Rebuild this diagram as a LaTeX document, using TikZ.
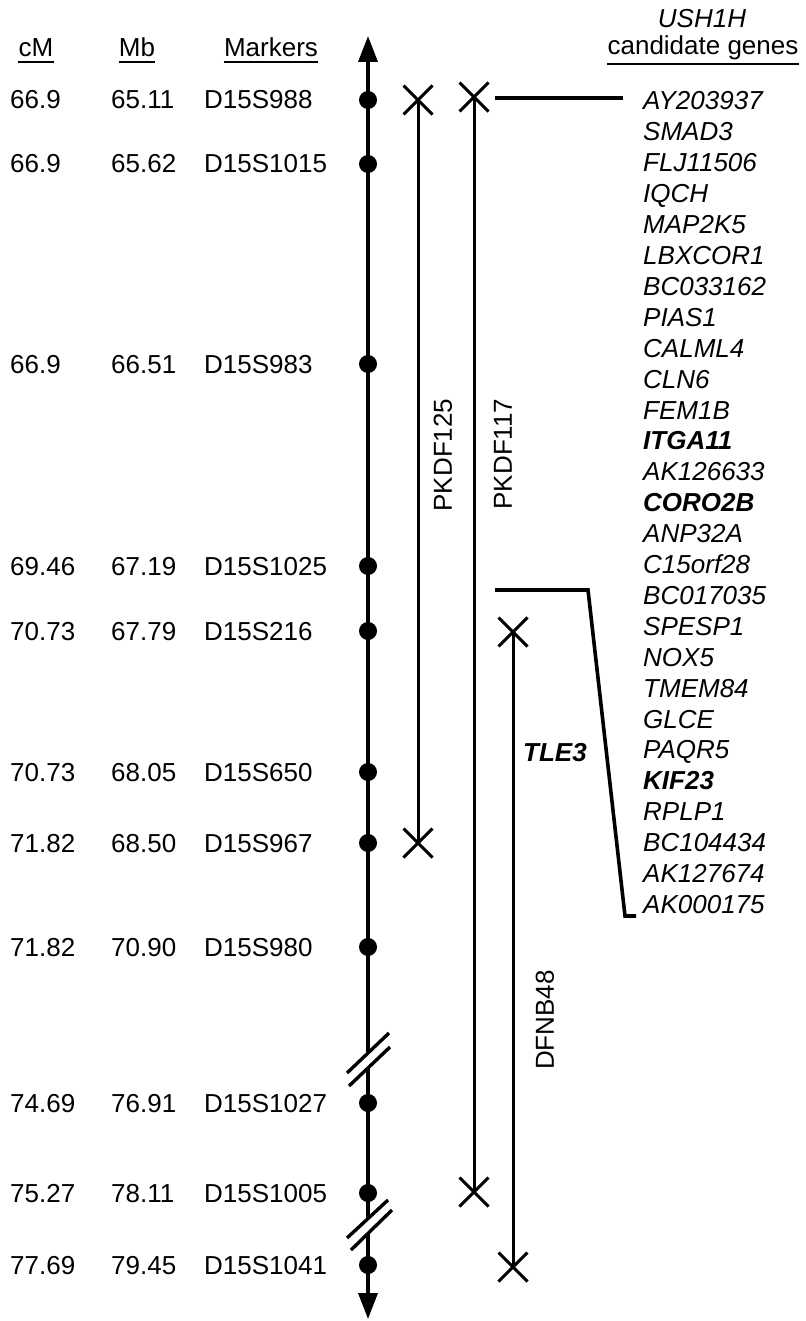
\documentclass[tikz,border=0pt]{standalone}
\usepackage{fontspec}
\setmainfont{Liberation Sans}
\usetikzlibrary{shapes.misc,arrows.meta}
\begin{document}
\begin{tikzpicture}[x=1pt,y=-1pt,
  txt/.style={font=\fontsize{26}{30}\selectfont, inner sep=0pt, anchor=base west},
  gene/.style={txt, font=\fontsize{26}{30}\selectfont\itshape},
  bgene/.style={txt, font=\fontsize{26}{30}\selectfont\bfseries\itshape},
  hdr/.style={font=\fontsize{26}{30}\selectfont, inner sep=0pt, anchor=base},
  lbl/.style={font=\fontsize{26}{30}\selectfont, inner sep=0pt},
  ul/.style={line width=2pt},
  dot/.style={circle, fill, inner sep=0pt, minimum size=18pt},
  xm/.style={cross out, draw, line width=3pt, inner sep=0pt, minimum size=26pt},
  axis/.style={line width=3.6pt},
  ln/.style={line width=3pt},
  brk/.style={line width=3.4pt},
  tip/.style={-{Triangle[width=19pt,length=26pt]}}
]
\useasboundingbox (0,0) rectangle (805,1321);

% headers
\node[hdr] (hcm) at (36,57) {cM};
\node[hdr] (hmb) at (137,57) {Mb};
\node[hdr] (hmk) at (271,57) {Markers};
\node[hdr, font=\fontsize{26}{30}\selectfont\itshape] (husha) at (702,28) {USH1H};
\node[hdr] (hcg) at (703,55) {candidate genes};
\foreach \h in {hcm,hmb,hmk}
  \draw[ul] ([yshift=-5pt]\h.base west) -- ([yshift=-5pt]\h.base east);
\draw[ul] ([yshift=-9pt]hcg.base west) -- ([yshift=-9pt]hcg.base east);

% marker rows
\foreach \i/\y/\c/\m/\n in {
  1/100/66.9/65.11/D15S988,
  2/164/66.9/65.62/D15S1015,
  3/364/66.9/66.51/D15S983,
  4/566/69.46/67.19/D15S1025,
  5/631/70.73/67.79/D15S216,
  6/772/70.73/68.05/D15S650,
  7/843/71.82/68.50/D15S967,
  8/947/71.82/70.90/D15S980,
  9/1103/74.69/76.91/D15S1027,
  10/1193/75.27/78.11/D15S1005,
  11/1265/77.69/79.45/D15S1041}{
  \node[txt] (cm\i) at (10,\y+9) {\c};
  \node[txt] (mb\i) at (111,\y+9) {\m};
  \node[txt] (mk\i) at (204,\y+9) {\n};
}

% axis
\coordinate (top) at (368,36);
\coordinate (bot) at (368,1319);
\coordinate (b1a) at (368,1053);
\coordinate (b1b) at (368,1068);
\coordinate (b2a) at (368,1219);
\coordinate (b2b) at (368,1234);
\draw[axis,tip] (b1a) -- (top);
\draw[axis] (b1b) -- (b2a);
\draw[axis,tip] (b2b) -- (bot);
\draw[brk] ([shift={(-21,20)}]b1a) -- ([shift={(21,-20)}]b1a);
\draw[brk] ([shift={(-19,18)}]b1b) -- ([shift={(22,-21)}]b1b);
\draw[brk] ([shift={(-21,19)}]b2a) -- ([shift={(20,-19)}]b2a);
\draw[brk] ([shift={(-17,16)}]b2b) -- ([shift={(24,-24)}]b2b);

\foreach \i/\y in {1/100,2/164,3/364,4/566,5/631,6/772,7/843,8/947,9/1103,10/1193,11/1265}
  \node[dot] (m\i) at (368,\y) {};

% intervals
\node[xm] (p125a) at (418,100) {};
\node[xm] (p125b) at (418,843) {};
\node[xm] (p117a) at (474,97) {};
\node[xm] (p117b) at (474,1192) {};
\node[xm] (d48a) at (513,632) {};
\node[xm] (d48b) at (513,1267) {};
\draw[ln] (p125a.center) -- (p125b.center);
\draw[ln] (p117a.center) -- (p117b.center);
\draw[ln] (d48a.center) -- (d48b.center);
\node[lbl, rotate=90] (l125) at (443,455) {PKDF125};
\node[lbl, rotate=90] (l117) at (503,454) {PKDF117};
\node[lbl, rotate=90] (l48) at (545,1020) {DFNB48};
\node[lbl, font=\fontsize{26}{30}\selectfont\bfseries\itshape] (tle3) at (555,753) {TLE3};

% brackets
\coordinate (k1a) at (495,98);
\coordinate (k1b) at (623,98);
\draw[axis] (k1a) -- (k1b);
\coordinate (k2a) at (495,590);
\coordinate (k2b) at (588,590);
\coordinate (k2c) at (625,916);
\coordinate (k2d) at (636,916);
\draw[axis] (k2a) -- (k2b) -- (k2c) -- (k2d);

% genes
\foreach \g/\s [count=\i] in {
  AY203937/gene, SMAD3/gene, FLJ11506/gene, IQCH/gene, MAP2K5/gene,
  LBXCOR1/gene, BC033162/gene, PIAS1/gene, CALML4/gene, CLN6/gene,
  FEM1B/gene, ITGA11/bgene, AK126633/gene, CORO2B/bgene, ANP32A/gene,
  C15orf28/gene, BC017035/gene, SPESP1/gene, NOX5/gene, TMEM84/gene,
  GLCE/gene, PAQR5/gene, KIF23/bgene, RPLP1/gene, BC104434/gene,
  AK127674/gene, AK000175/gene}
  \node[\s] (g\i) at (643,{101+(\i-1)*30.9+9}) {\g};
\end{tikzpicture}
\end{document}
